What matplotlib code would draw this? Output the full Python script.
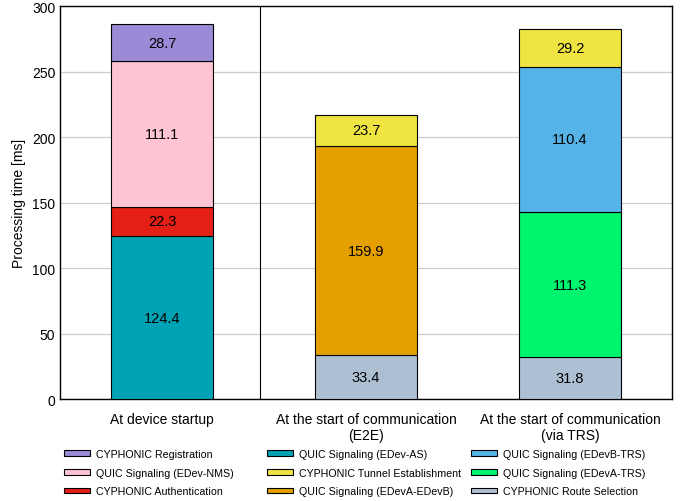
import matplotlib
matplotlib.use("Agg")
import matplotlib.pyplot as plt
from matplotlib.patches import Patch

plt.rcParams['font.family'] = ['Liberation Sans', 'DejaVu Sans']

categories = ["At device startup",
              "At the start of communication\n(E2E)",
              "At the start of communication\n(via TRS)"]

# Stacks listed bottom to top for each category: (component, value)
startup = [("QUIC Signaling (EDev-AS)", 124.4),
           ("CYPHONIC Authentication", 22.3),
           ("QUIC Signaling (EDev-NMS)", 111.1),
           ("CYPHONIC Registration", 28.7)]
e2e = [("CYPHONIC Route Selection", 33.4),
       ("QUIC Signaling (EDevA-EDevB)", 159.9),
       ("CYPHONIC Tunnel Establishment", 23.7)]
via_trs = [("CYPHONIC Route Selection", 31.8),
           ("QUIC Signaling (EDevA-TRS)", 111.3),
           ("QUIC Signaling (EDevB-TRS)", 110.4),
           ("CYPHONIC Tunnel Establishment", 29.2)]

colors = {
    "CYPHONIC Registration": "#9b8ad6",
    "QUIC Signaling (EDev-NMS)": "#ffc4d4",
    "CYPHONIC Authentication": "#e41f16",
    "QUIC Signaling (EDev-AS)": "#00a3b3",
    "CYPHONIC Tunnel Establishment": "#f0e443",
    "QUIC Signaling (EDevA-EDevB)": "#e59f00",
    "QUIC Signaling (EDevB-TRS)": "#56b3e8",
    "QUIC Signaling (EDevA-TRS)": "#00f56e",
    "CYPHONIC Route Selection": "#adc0d3",
}

legend_columns = [
    ["CYPHONIC Registration", "QUIC Signaling (EDev-NMS)", "CYPHONIC Authentication"],
    ["QUIC Signaling (EDev-AS)", "CYPHONIC Tunnel Establishment", "QUIC Signaling (EDevA-EDevB)"],
    ["QUIC Signaling (EDevB-TRS)", "QUIC Signaling (EDevA-TRS)", "CYPHONIC Route Selection"],
]

fig = plt.figure(figsize=(6.83, 5.02), dpi=100)
ax = fig.add_axes([0.088, 0.203, 0.896, 0.783])

for i, stack in enumerate([startup, e2e, via_trs]):
    bottom = 0.0
    for name, val in stack:
        ax.bar(i, val, width=0.5, bottom=bottom, color=colors[name],
               edgecolor="black", linewidth=0.8, zorder=3)
        ax.text(i, bottom + val / 2, f"{val:.1f}", ha="center", va="center",
                fontsize=10.5, zorder=4)
        bottom += val

ax.set_xlim(-0.5, 2.5)
ax.set_ylim(0, 300)
ax.set_yticks(range(0, 301, 50))
ax.set_xticks(range(3))
ax.set_xticklabels(categories, fontsize=10)
ax.tick_params(axis="both", length=0, labelsize=10)
ax.tick_params(axis="x", pad=9)
ax.yaxis.grid(True, color="#cccccc", linewidth=0.9, zorder=0)
ax.axvline(0.48, color="black", linewidth=0.8, zorder=2)
ax.set_ylabel("Processing time [ms]", fontsize=10)
for s in ax.spines.values():
    s.set_linewidth(1.0)

x_anchors = [0.0937, 0.391, 0.6895]
for xa, names in zip(x_anchors, legend_columns):
    handles = [Patch(facecolor=colors[n], edgecolor="black", linewidth=0.8) for n in names]
    fig.legend(handles, names, loc="upper left", bbox_to_anchor=(xa, 0.1036),
               frameon=False, fontsize=7.7, handlelength=2.43, handleheight=0.45,
               handletextpad=0.56, labelspacing=0.81, borderaxespad=0, borderpad=0)

fig.savefig("out.png", dpi=100)
